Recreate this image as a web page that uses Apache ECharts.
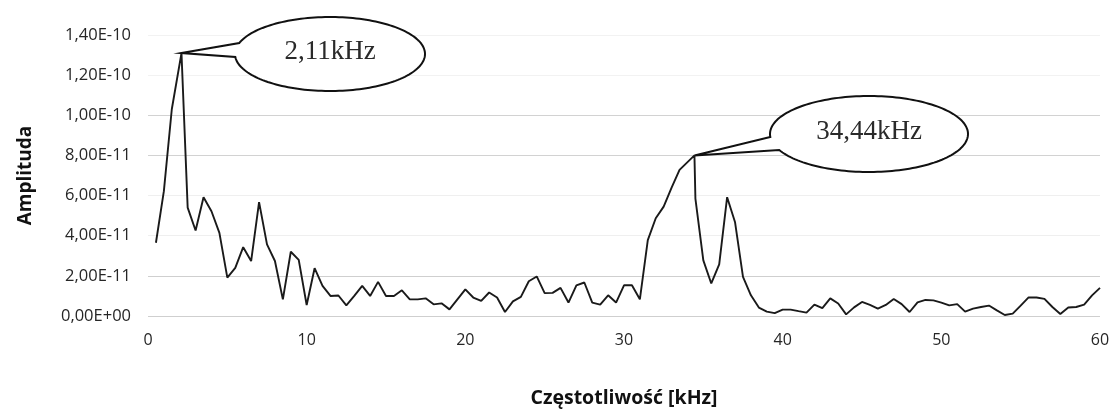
<!DOCTYPE html>
<html>
<head>
<meta charset="utf-8">
<script src="https://cdn.jsdelivr.net/npm/echarts@6/dist/echarts.min.js"></script>
<style>
  html, body { margin: 0; padding: 0; background: #ffffff; }
  #chart { width: 1114px; height: 414px; }
</style>
</head>
<body>
<div id="chart"></div>
<script>
// Spectrum bins (kHz); the two peak bins carry their refined peak frequency
const freqKHz = [
  0.5, 1.0, 1.5, 2.11, 2.5, 3.0, 3.5, 4.0, 4.5, 5.0,
  5.5, 6.0, 6.5, 7.0, 7.5, 8.0, 8.5, 9.0, 9.5, 10.0,
  10.5, 11.0, 11.5, 12.0, 12.5, 13.0, 13.5, 14.0, 14.5, 15.0,
  15.5, 16.0, 16.5, 17.0, 17.5, 18.0, 18.5, 19.0, 19.5, 20.0,
  20.5, 21.0, 21.5, 22.0, 22.5, 23.0, 23.5, 24.0, 24.5, 25.0,
  25.5, 26.0, 26.5, 27.0, 27.5, 28.0, 28.5, 29.0, 29.5, 30.0,
  30.5, 31.0, 31.5, 32.0, 32.5, 33.0, 33.5, 34.44, 34.5, 35.0,
  35.5, 36.0, 36.5, 37.0, 37.5, 38.0, 38.5, 39.0, 39.5, 40.0,
  40.5, 41.0, 41.5, 42.0, 42.5, 43.0, 43.5, 44.0, 44.5, 45.0,
  45.5, 46.0, 46.5, 47.0, 47.5, 48.0, 48.5, 49.0, 49.5, 50.0,
  50.5, 51.0, 51.5, 52.0, 52.5, 53.0, 53.5, 54.0, 54.5, 55.0,
  55.5, 56.0, 56.5, 57.0, 57.5, 58.0, 58.5, 59.0, 59.5, 60.0
];

// Amplitude of each bin
const amplitude = [
  3.65e-11, 6.22e-11, 1.03e-10, 1.31e-10, 5.40e-11, 4.26e-11, 5.92e-11, 5.22e-11, 4.14e-11, 1.91e-11,
  2.40e-11, 3.43e-11, 2.74e-11, 5.67e-11, 3.57e-11, 2.74e-11, 0.83e-11, 3.20e-11, 2.80e-11, 0.55e-11,
  2.38e-11, 1.50e-11, 1.00e-11, 1.02e-11, 0.53e-11, 1.00e-11, 1.50e-11, 1.00e-11, 1.70e-11, 1.00e-11,
  1.00e-11, 1.28e-11, 0.83e-11, 0.83e-11, 0.88e-11, 0.58e-11, 0.63e-11, 0.33e-11, 0.83e-11, 1.33e-11,
  0.92e-11, 0.75e-11, 1.17e-11, 0.92e-11, 0.20e-11, 0.73e-11, 0.95e-11, 1.73e-11, 1.97e-11, 1.14e-11,
  1.15e-11, 1.40e-11, 0.67e-11, 1.53e-11, 1.67e-11, 0.67e-11, 0.57e-11, 1.03e-11, 0.67e-11, 1.53e-11,
  1.53e-11, 0.83e-11, 3.78e-11, 4.87e-11, 5.45e-11, 6.40e-11, 7.28e-11, 8.00e-11, 5.85e-11, 2.77e-11,
  1.62e-11, 2.57e-11, 5.92e-11, 4.67e-11, 1.95e-11, 1.03e-11, 0.42e-11, 0.22e-11, 0.14e-11, 0.32e-11,
  0.32e-11, 0.24e-11, 0.17e-11, 0.57e-11, 0.39e-11, 0.88e-11, 0.62e-11, 0.08e-11, 0.43e-11, 0.70e-11,
  0.55e-11, 0.37e-11, 0.55e-11, 0.85e-11, 0.59e-11, 0.20e-11, 0.68e-11, 0.80e-11, 0.78e-11, 0.67e-11,
  0.53e-11, 0.59e-11, 0.22e-11, 0.37e-11, 0.45e-11, 0.52e-11, 0.28e-11, 0.05e-11, 0.12e-11, 0.52e-11,
  0.93e-11, 0.92e-11, 0.85e-11, 0.45e-11, 0.10e-11, 0.42e-11, 0.45e-11, 0.57e-11, 1.03e-11, 1.40e-11
];

// Axis ranges and tick steps
const xRange = [0, 60];
const xStep = 10;
const yRange = [0, 1.4e-10];
const yStep = 2e-11;

// Annotated spectral peaks (frequency in kHz)
const peakFreqs = [2.11, 34.44];

// Axis titles
const xTitle = 'Częstotliwość [kHz]';
const yTitle = 'Amplituda';

// "1,40E-10" style: two decimals, comma separator, two-digit exponent
function sciComma(v) {
  const s = Number(v).toExponential(2);
  const parts = s.split('e');
  const sign = parts[1][0] === '-' ? '-' : '+';
  const exp = parts[1].replace(/[+-]/, '').padStart(2, '0');
  return parts[0].replace('.', ',') + 'E' + sign + exp;
}

function khzLabel(f) {
  return f.toFixed(2).replace('.', ',') + 'kHz';
}

const points = freqKHz.map((f, i) => [f, amplitude[i]]);

const labelFont = '"Open Sans"';
const chart = echarts.init(document.getElementById('chart'), null, { renderer: 'canvas' });

chart.setOption({
  animation: false,
  backgroundColor: '#ffffff',
  grid: { left: 148, right: 14, top: 35, bottom: 98, containLabel: false, outerBoundsMode: 'none' },
  xAxis: {
    type: 'value',
    min: xRange[0],
    max: xRange[1],
    interval: xStep,
    name: xTitle,
    nameLocation: 'middle',
    nameGap: 72,
    nameTextStyle: { fontFamily: labelFont, fontWeight: 'bold', fontSize: 19.5, color: '#111' },
    axisLine: { show: false },
    axisTick: { show: false },
    splitLine: { show: false },
    axisLabel: { fontFamily: labelFont, fontSize: 16, color: '#262626', margin: 16 }
  },
  yAxis: {
    type: 'value',
    min: yRange[0],
    max: yRange[1],
    interval: yStep,
    name: yTitle,
    nameLocation: 'middle',
    nameGap: 113,
    nameTextStyle: { fontFamily: labelFont, fontWeight: 'bold', fontSize: 19, color: '#111' },
    axisLine: { show: false },
    axisTick: { show: false },
    axisLabel: {
      fontFamily: labelFont, fontSize: 16.5, color: '#262626', margin: 17,
      formatter: sciComma
    },
    splitLine: {
      show: true,
      lineStyle: {
        width: 1,
        color: ['#cfcfcf', '#cfcfcf', '#efefef', '#efefef', '#d2d2d2', '#d2d2d2', '#f2f2f2', '#f2f2f2']
      }
    }
  },
  series: [{
    type: 'line',
    data: points,
    symbol: 'none',
    lineStyle: { color: '#1a1a1a', width: 1.9 },
    z: 3
  }]
});

// Ellipse callouts pointing at the annotated peaks
const calloutLayout = [
  { cx: 330, cy: 54, rx: 95, ry: 37, dyUpper: -11, dyLower: 3 },
  { cx: 869, cy: 134, rx: 99, ry: 38, dyUpper: 3, dyLower: 16 }
];

function calloutOutline(tip, c) {
  const tu = Math.atan2(c.dyUpper / c.ry, -Math.sqrt(1 - Math.pow(c.dyUpper / c.ry, 2)));
  const tl = Math.atan2(c.dyLower / c.ry, -Math.sqrt(1 - Math.pow(c.dyLower / c.ry, 2)));
  const end = tl > tu ? tl : tl + 2 * Math.PI;
  const pts = [[tip[0], tip[1]]];
  const steps = 160;
  for (let s = 0; s <= steps; s++) {
    const t = tu + (end - tu) * s / steps;
    pts.push([c.cx + c.rx * Math.cos(t), c.cy + c.ry * Math.sin(t)]);
  }
  return pts;
}

const graphics = [];
peakFreqs.forEach((f, k) => {
  const idx = freqKHz.indexOf(f);
  const tip = chart.convertToPixel({ seriesIndex: 0 }, [f, amplitude[idx]]);
  const c = calloutLayout[k];
  graphics.push({
    type: 'polygon',
    z: 10,
    shape: { points: calloutOutline(tip, c) },
    style: { fill: '#ffffff', stroke: '#111111', lineWidth: 2, lineJoin: 'miter' }
  });
  graphics.push({
    type: 'text',
    z: 11,
    x: c.cx,
    y: c.cy - 2,
    style: {
      text: khzLabel(f),
      font: '27px "Liberation Serif", "Times New Roman", serif',
      fill: '#2a2a2a',
      align: 'center',
      verticalAlign: 'middle'
    }
  });
});
chart.setOption({ graphic: graphics });
</script>
</body>
</html>
